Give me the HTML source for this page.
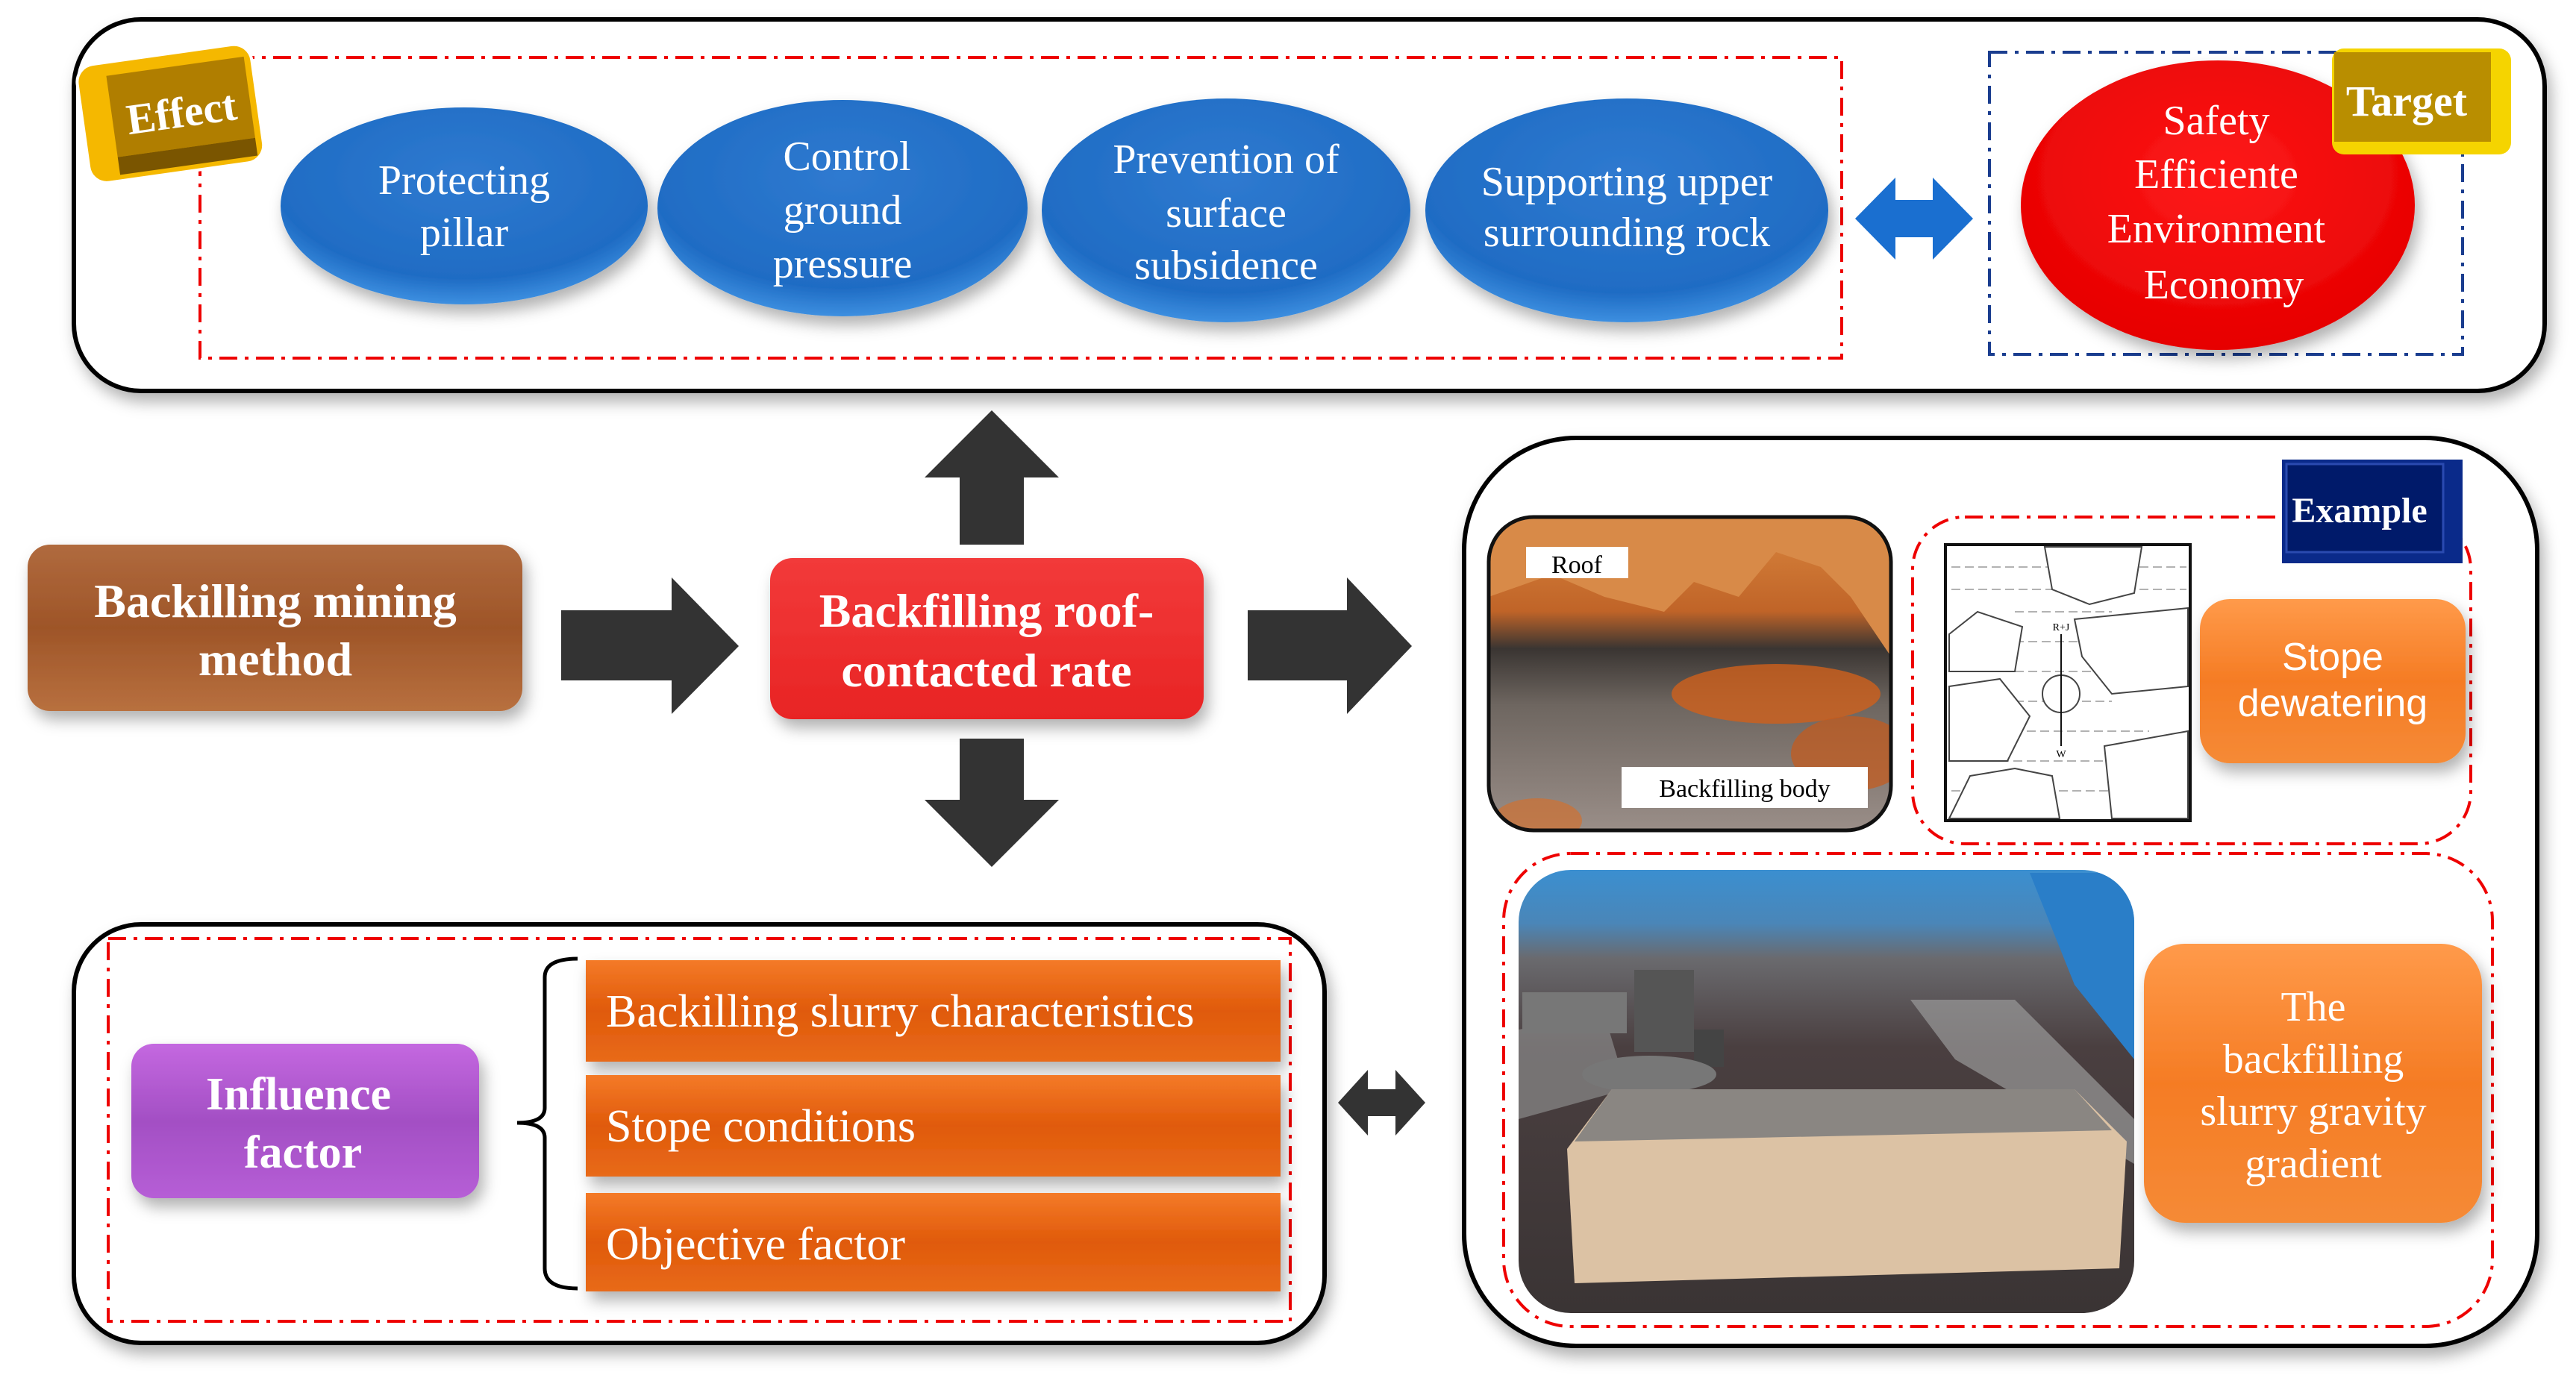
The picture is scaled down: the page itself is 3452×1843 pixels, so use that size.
<!DOCTYPE html>
<html><head><meta charset="utf-8"><style>
html,body{margin:0;padding:0;background:#fff;}
svg{display:block;}
text{font-family:"Liberation Serif",serif;}
</style></head><body>
<svg width="3452" height="1843" viewBox="0 0 3452 1843" xmlns="http://www.w3.org/2000/svg">
<defs>
<radialGradient id="blue" cx="50%" cy="35%" r="65%"><stop offset="0" stop-color="#2f7ad0"/><stop offset="0.8" stop-color="#1f6cc4"/><stop offset="1" stop-color="#3d8fe0"/></radialGradient>
<radialGradient id="red" cx="50%" cy="40%" r="60%"><stop offset="0" stop-color="#ff1a1a"/><stop offset="1" stop-color="#e60000"/></radialGradient>
<linearGradient id="brown" x1="0" y1="0" x2="0" y2="1"><stop offset="0" stop-color="#b06a3e"/><stop offset="0.5" stop-color="#9e5528"/><stop offset="1" stop-color="#b8703f"/></linearGradient>
<linearGradient id="redbox" x1="0" y1="0" x2="0" y2="1"><stop offset="0" stop-color="#f23a3a"/><stop offset="1" stop-color="#e82424"/></linearGradient>
<linearGradient id="orange" x1="0" y1="0" x2="0" y2="1"><stop offset="0" stop-color="#ff9a4a"/><stop offset="0.5" stop-color="#f57c24"/><stop offset="1" stop-color="#f58a36"/></linearGradient>
<linearGradient id="bar" x1="0" y1="0" x2="0" y2="1"><stop offset="0" stop-color="#f47a28"/><stop offset="0.5" stop-color="#e05a0a"/><stop offset="1" stop-color="#e86a1a"/></linearGradient>
<linearGradient id="purple" x1="0" y1="0" x2="0" y2="1"><stop offset="0" stop-color="#c468e0"/><stop offset="0.5" stop-color="#a34fc4"/><stop offset="1" stop-color="#b65ed6"/></linearGradient>
<linearGradient id="rock" x1="0" y1="0" x2="0" y2="1"><stop offset="0" stop-color="#d9863e"/><stop offset="0.3" stop-color="#c06428"/><stop offset="0.42" stop-color="#3a3532"/><stop offset="0.6" stop-color="#6e6660"/><stop offset="1" stop-color="#9a8e88"/></linearGradient>
<linearGradient id="photo2" x1="0" y1="0" x2="0" y2="1"><stop offset="0" stop-color="#3b8fd0"/><stop offset="0.12" stop-color="#4a86b8"/><stop offset="0.2" stop-color="#6a6a6e"/><stop offset="0.4" stop-color="#4a3f40"/><stop offset="1" stop-color="#3a3434"/></linearGradient>
<filter id="sh" x="-10%" y="-10%" width="130%" height="140%"><feDropShadow dx="6" dy="12" stdDeviation="10" flood-color="#000" flood-opacity="0.3"/></filter>
</defs>

<rect x="99" y="26" width="3311" height="498" rx="90" fill="#fff" stroke="#000" stroke-width="6" filter="url(#sh)"/>
<rect x="268" y="77" width="2200" height="403" fill="none" stroke="#e00" stroke-width="4" stroke-dasharray="24,10,5,10"/>
<rect x="2666" y="70" width="634" height="405" fill="none" stroke="#1a3d8f" stroke-width="4" stroke-dasharray="24,10,5,10"/>

<g filter="url(#sh)">
<ellipse cx="622" cy="276" rx="246" ry="132" fill="url(#blue)"/>
<ellipse cx="1129" cy="279" rx="248" ry="145" fill="url(#blue)"/>
<ellipse cx="1643" cy="282" rx="247" ry="150" fill="url(#blue)"/>
<ellipse cx="2180" cy="282" rx="270" ry="150" fill="url(#blue)"/>
<ellipse cx="2972" cy="275" rx="264" ry="194" fill="url(#red)"/>
</g>
<g fill="#fff" font-size="56" text-anchor="middle">
<text x="622" y="260">Protecting</text><text x="622" y="330">pillar</text>
<text x="1135" y="228">Control</text><text x="1129" y="300">ground</text><text x="1129" y="372">pressure</text>
<text x="1643" y="232">Prevention of</text><text x="1643" y="304">surface</text><text x="1643" y="374">subsidence</text>
<text x="2180" y="262">Supporting upper</text><text x="2180" y="330">surrounding rock</text>
<text x="2970" y="180">Safety</text><text x="2970" y="252">Efficiente</text><text x="2970" y="325">Environment</text><text x="2980" y="400">Economy</text>
</g>
<polygon points="2486,293 2540,238 2540,268 2590,268 2590,238 2644,293 2590,348 2590,318 2540,318 2540,348" fill="#1a6fd0"/>

<g transform="rotate(-8 230 150)">
<rect x="110" y="72" width="236" height="160" rx="24" fill="#f5b800" stroke="#fff" stroke-width="4"/>
<rect x="150" y="90" width="186" height="110" fill="#b07e00"/>
<rect x="150" y="200" width="186" height="24" fill="#7a5500"/>
<text x="243" y="172" font-size="58" font-weight="bold" fill="#fff" text-anchor="middle">Effect</text>
</g>
<rect x="3125" y="65" width="240" height="142" rx="16" fill="#f5d400"/>
<rect x="3128" y="70" width="210" height="120" fill="#b98e00"/>
<text x="3225" y="155" font-size="58" font-weight="bold" fill="#fff" text-anchor="middle">Target</text>

<rect x="37" y="730" width="663" height="223" rx="30" fill="url(#brown)" filter="url(#sh)"/>
<text x="369" y="827" font-size="64" font-weight="bold" fill="#fff" text-anchor="middle">Backilling mining</text>
<text x="369" y="905" font-size="64" font-weight="bold" fill="#fff" text-anchor="middle">method</text>

<polygon points="752,818 900,818 900,774 990,866 900,957 900,912 752,912" fill="#333"/>
<rect x="1032" y="748" width="581" height="216" rx="30" fill="url(#redbox)" filter="url(#sh)"/>
<text x="1322" y="840" font-size="64" font-weight="bold" fill="#fff" text-anchor="middle">Backfilling roof-</text>
<text x="1322" y="920" font-size="64" font-weight="bold" fill="#fff" text-anchor="middle">contacted rate</text>
<polygon points="1286,730 1286,640 1239,640 1329,550 1419,640 1372,640 1372,730" fill="#333"/>
<polygon points="1286,990 1372,990 1372,1072 1419,1072 1329,1162 1239,1072 1286,1072" fill="#333"/>
<polygon points="1672,818 1805,818 1805,774 1892,866 1805,957 1805,912 1672,912" fill="#333"/>

<rect x="1962" y="587" width="1438" height="1217" rx="150" fill="#fff" stroke="#000" stroke-width="6" filter="url(#sh)"/>
<rect x="2563" y="693" width="748" height="438" rx="70" fill="none" stroke="#e00" stroke-width="4" stroke-dasharray="24,10,5,10"/>
<rect x="2015" y="1144" width="1325" height="634" rx="90" fill="none" stroke="#e00" stroke-width="4" stroke-dasharray="24,10,5,10"/>
<rect x="3058" y="616" width="242" height="139" fill="#0a2a8a"/>
<rect x="3064" y="622" width="210" height="118" fill="#001a6a" stroke="#2a4ab0" stroke-width="3"/>
<text x="3162" y="700" font-size="48" font-weight="bold" fill="#fff" text-anchor="middle">Example</text>

<clipPath id="c1"><rect x="1995" y="693" width="539" height="420" rx="60"/></clipPath>
<g clip-path="url(#c1)">
<rect x="1995" y="693" width="539" height="420" fill="url(#rock)"/>
<polygon points="1995,693 2534,693 2534,880 2480,800 2440,760 2380,740 2330,800 2270,780 2230,820 2150,800 2080,770 1995,800" fill="#d88a48"/>
<ellipse cx="2380" cy="930" rx="140" ry="40" fill="#d0601c" opacity="0.8"/>
<ellipse cx="2480" cy="1010" rx="80" ry="50" fill="#c85a1a" opacity="0.7"/>
<ellipse cx="2060" cy="1100" rx="60" ry="30" fill="#d07030" opacity="0.7"/>
</g>
<rect x="1995" y="693" width="539" height="420" rx="60" fill="none" stroke="#111" stroke-width="5"/>
<rect x="2045" y="733" width="137" height="42" fill="#fff"/>
<text x="2113" y="768" font-size="34" text-anchor="middle">Roof</text>
<rect x="2173" y="1028" width="330" height="55" fill="#fff"/>
<text x="2338" y="1068" font-size="34" text-anchor="middle">Backfilling body</text>

<rect x="2607" y="730" width="328" height="370" fill="#fff" stroke="#111" stroke-width="4"/>
<g stroke="#999" stroke-width="1.5" stroke-dasharray="12,6">
<line x1="2615" y1="760" x2="2930" y2="760"/><line x1="2615" y1="790" x2="2930" y2="790"/>
<line x1="2700" y1="820" x2="2830" y2="820"/><line x1="2700" y1="860" x2="2830" y2="860"/>
<line x1="2700" y1="900" x2="2830" y2="900"/><line x1="2700" y1="940" x2="2830" y2="940"/>
<line x1="2680" y1="980" x2="2880" y2="980"/><line x1="2680" y1="1020" x2="2880" y2="1020"/>
<line x1="2615" y1="1060" x2="2930" y2="1060"/>
</g>
<g fill="#fff" stroke="#444" stroke-width="2">
<polygon points="2740,733 2870,733 2860,795 2800,810 2750,790"/>
<polygon points="2612,850 2650,820 2710,840 2700,900 2612,900"/>
<polygon points="2780,830 2932,815 2932,920 2830,930 2790,880"/>
<polygon points="2612,920 2680,910 2720,960 2690,1020 2612,1020"/>
<circle cx="2762" cy="930" r="25"/>
<polygon points="2640,1040 2700,1030 2750,1040 2760,1097 2612,1097"/>
<polygon points="2820,1000 2932,980 2932,1097 2830,1097"/>
</g>
<line x1="2762" y1="850" x2="2762" y2="1000" stroke="#111" stroke-width="2"/>
<text x="2762" y="845" font-size="14" text-anchor="middle">R+J</text>
<text x="2762" y="1015" font-size="14" text-anchor="middle">W</text>

<rect x="2948" y="803" width="356" height="220" rx="40" fill="url(#orange)" filter="url(#sh)"/>
<text x="3126" y="898" font-size="52" fill="#fff" text-anchor="middle" style="font-family:'Liberation Sans',sans-serif">Stope</text>
<text x="3126" y="960" font-size="52" fill="#fff" text-anchor="middle" style="font-family:'Liberation Sans',sans-serif">dewatering</text>

<clipPath id="c2"><rect x="2035" y="1166" width="825" height="594" rx="70"/></clipPath>
<g clip-path="url(#c2)">
<rect x="2035" y="1166" width="825" height="594" fill="url(#photo2)"/>
<polygon points="2560,1340 2700,1340 2860,1500 2860,1560 2620,1420" fill="#9a9a9a" opacity="0.7"/>
<polygon points="2035,1380 2150,1360 2180,1460 2035,1500" fill="#8a8a8a" opacity="0.7"/>
<polygon points="2720,1170 2860,1170 2860,1420 2780,1320" fill="#2a7ec8"/>
<rect x="2040" y="1330" width="140" height="55" fill="#777"/>
<rect x="2190" y="1300" width="80" height="110" fill="#555"/>
<rect x="2270" y="1380" width="40" height="50" fill="#444"/>
<ellipse cx="2210" cy="1440" rx="90" ry="25" fill="#777"/>
<polygon points="2100,1540 2160,1460 2780,1460 2850,1530 2840,1700 2110,1720" fill="#dcc2a4"/>
<polygon points="2160,1460 2780,1460 2830,1515 2110,1530" fill="#8a8682"/>
</g>

<rect x="2873" y="1265" width="453" height="374" rx="55" fill="url(#orange)" filter="url(#sh)"/>
<g fill="#fff" font-size="56" text-anchor="middle">
<text x="3100" y="1368">The</text><text x="3100" y="1438">backfilling</text><text x="3100" y="1508">slurry gravity</text><text x="3100" y="1578">gradient</text>
</g>

<rect x="99" y="1239" width="1676" height="561" rx="90" fill="#fff" stroke="#000" stroke-width="6" filter="url(#sh)"/>
<rect x="145" y="1258" width="1584" height="513" fill="none" stroke="#e00" stroke-width="4" stroke-dasharray="24,10,5,10"/>
<rect x="176" y="1399" width="466" height="207" rx="30" fill="url(#purple)" filter="url(#sh)"/>
<text x="400" y="1487" font-size="62" font-weight="bold" fill="#fff" text-anchor="middle">Influence</text>
<text x="406" y="1565" font-size="62" font-weight="bold" fill="#fff" text-anchor="middle">factor</text>
<path d="M774,1285 Q730,1285 730,1310 L730,1485 Q730,1505 693,1505 Q730,1505 730,1525 L730,1700 Q730,1727 774,1727" fill="none" stroke="#000" stroke-width="5"/>
<g filter="url(#sh)">
<rect x="785" y="1287" width="931" height="136" fill="url(#bar)"/>
<rect x="785" y="1441" width="931" height="136" fill="url(#bar)"/>
<rect x="785" y="1599" width="931" height="132" fill="url(#bar)"/>
</g>
<g fill="#fff" font-size="62">
<text x="812" y="1376">Backilling slurry characteristics</text>
<text x="812" y="1530">Stope conditions</text>
<text x="812" y="1688">Objective factor</text>
</g>
<polygon points="1793,1478 1833,1434 1833,1460 1870,1460 1870,1434 1910,1478 1870,1522 1870,1496 1833,1496 1833,1522" fill="#333"/>
</svg>
</body></html>
